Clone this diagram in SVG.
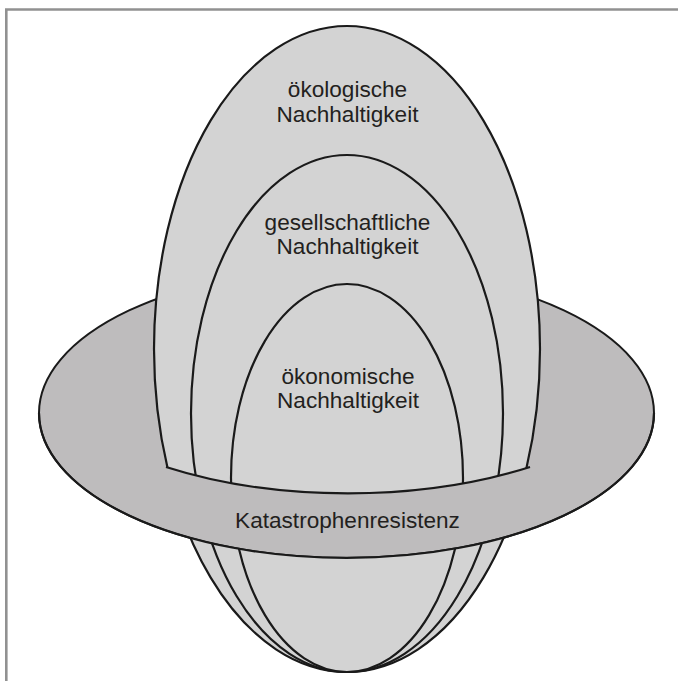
<svg xmlns="http://www.w3.org/2000/svg" width="678" height="681" viewBox="0 0 678 681">
  <style>
    .ring { fill: #bebcbd; stroke: #1a1a1a; stroke-width: 2; }
    .lobe { fill: #d3d3d3; stroke: #1a1a1a; stroke-width: 2.2; }
    .edge { fill: none; stroke: #1a1a1a; stroke-width: 2.2; }
    .lbl { font-family: "Liberation Sans", Arial, sans-serif; font-size: 22.6px; fill: #231f20; text-anchor: middle; }
    .frame { fill: none; stroke: #919191; stroke-width: 2.6; }
  </style>
  <defs>
    <clipPath id="visible">
      <path d="M0,0 H678 V467 H530 A328 157 0 0 1 166 467 H0 Z"/>
      <path d="M0,681 H678 V413 H654 A307.5 145 0 0 1 39 413 H0 Z"/>
    </clipPath>
  </defs>
  <rect x="0" y="0" width="678" height="681" fill="#ffffff"/>
  <path class="frame" d="M6.3,681 V9.5 H678"/>

  <g id="node-katastrophenresistenz-ring">
    <ellipse class="ring" cx="346.5" cy="413" rx="307.5" ry="145"/>
  </g>

  <g id="node-oekologische" clip-path="url(#visible)">
    <ellipse class="lobe" cx="347" cy="349" rx="193" ry="323"/>
  </g>
  <g id="node-gesellschaftliche" clip-path="url(#visible)">
    <ellipse class="lobe" cx="347" cy="413.5" rx="156" ry="258.5"/>
  </g>
  <g id="node-oekonomische" clip-path="url(#visible)">
    <ellipse class="lobe" cx="347" cy="478" rx="116" ry="194"/>
  </g>

  <g id="node-band">
    <path class="edge" d="M166,467 A328 157 0 0 0 530,467"/>
    <path class="edge" d="M39,413 A307.5 145 0 0 0 654,413"/>
  </g>

  <g id="labels">
    <text class="lbl" x="347.5" y="97">ökologische</text>
    <text class="lbl" x="347.5" y="122">Nachhaltigkeit</text>
    <text class="lbl" x="347.5" y="230">gesellschaftliche</text>
    <text class="lbl" x="347.5" y="254">Nachhaltigkeit</text>
    <text class="lbl" x="348" y="384">ökonomische</text>
    <text class="lbl" x="348" y="408">Nachhaltigkeit</text>
    <text class="lbl" x="347.5" y="528">Katastrophenresistenz</text>
  </g>
</svg>
